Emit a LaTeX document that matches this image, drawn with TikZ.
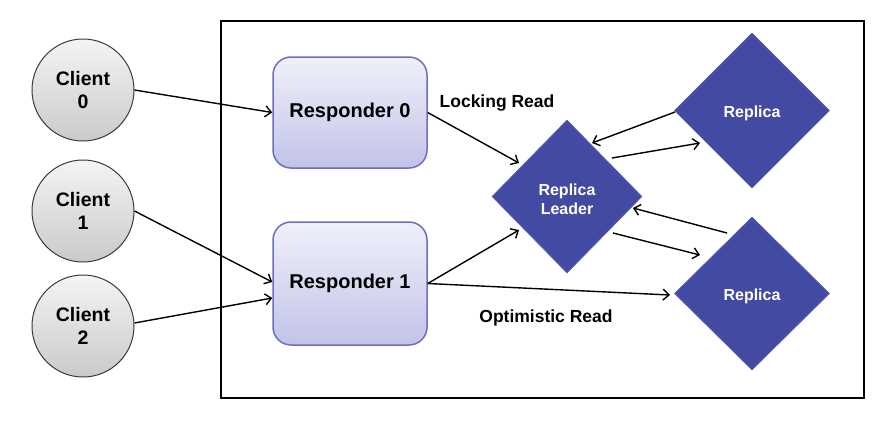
\documentclass[tikz,border=0pt]{standalone}
\usepackage{fontspec}
\setmainfont{Liberation Sans}
\usetikzlibrary{shapes.geometric,arrows.meta,calc}
\definecolor{diamfill}{HTML}{434AA1}
\definecolor{diamdraw}{HTML}{5A60B5}
\definecolor{resptop}{HTML}{F0F0FA}
\definecolor{respbot}{HTML}{C2C3E8}
\definecolor{respdraw}{HTML}{6B70BE}
\definecolor{clitop}{HTML}{F4F4F4}
\definecolor{clibot}{HTML}{CACACA}
\definecolor{clidraw}{HTML}{3A3A3A}
\tikzset{
  client/.style={circle, minimum size=102pt, inner sep=0pt, draw=clidraw, line width=1pt,
    top color=clitop, bottom color=clibot, align=center,
    font=\fontsize{19.5}{23}\selectfont\bfseries},
  responder/.style={rectangle, rounded corners=18pt, minimum width=154pt, inner sep=0pt,
    draw=respdraw, line width=1.5pt, top color=resptop, bottom color=respbot,
    font=\fontsize{20}{23}\selectfont\bfseries},
  replica/.style={diamond, inner sep=0pt, fill=diamfill, draw=diamdraw, line width=0.8pt},
  reptext/.style={text=white, align=center, yshift=-3pt, font=\fontsize{16}{18.5}\selectfont\bfseries},
  conn/.style={line width=1.4pt, -{Straight Barb[length=6pt,width=11pt,line width=1.4pt]}},
  lbl/.style={font=\fontsize{17.5}{20}\selectfont\bfseries}
}
\begin{document}
\begin{tikzpicture}[x=1pt,y=-1pt]
\useasboundingbox (0,0) rectangle (896,432);
\node[draw=black, line width=2pt, minimum width=643pt, minimum height=377pt, inner sep=0pt] (frame) at (542.5,209.5) {};

\node[client] (c0) at (83,90) {Client\\0};
\node[client] (c1) at (83,211) {Client\\1};
\node[client] (c2) at (83,326) {Client\\2};

\node[responder, minimum height=111pt] (r0) at (350,112.5) {Responder 0};
\node[responder, minimum height=123pt] (r1) at (350,283.5) {Responder 1};

\node[replica, minimum width=150pt, minimum height=153pt, label={[reptext]center:{Replica\\Leader}}] (L) at (567,196.5) {};
\node[replica, minimum width=155pt, minimum height=155pt, label={[reptext]center:{Replica}}] (rt) at (752,110.5) {};
\node[replica, minimum width=155pt, minimum height=153pt, label={[reptext]center:{Replica}}] (rb) at (752,293.5) {};

\node[lbl] (lock) at (497,103) {Locking Read};
\node[lbl] (opt) at (546,318) {Optimistic Read};

\draw[conn] (c0.east) -- (r0.west);
\draw[conn] (c1.east) -- ($(r1.west)+(0,-1.5)$);
\draw[conn] ($(c2.east)+(0,-3)$) -- ($(r1.west)+(0,14.5)$);
\draw[conn] (r0.east) -- ($(L.center)+(-48,-33.5)$);
\draw[conn] (r1.east) -- ($(L.center)+(-48,33.5)$);
\draw[conn] (r1.east) -- ($(rb.center)+(-82,1.5)$);
\draw[conn] ($(rt.center)+(-77,1.5)$) -- ($(L.center)+(25,-53.5)$);
\draw[conn] ($(L.center)+(45,-38.5)$) -- ($(rt.center)+(-52,32.5)$);
\draw[conn] ($(rb.center)+(-25,-60.5)$) -- ($(L.center)+(66,11.5)$);
\draw[conn] ($(L.center)+(46,36.5)$) -- ($(rb.center)+(-52,-38.5)$);
\end{tikzpicture}
\end{document}
